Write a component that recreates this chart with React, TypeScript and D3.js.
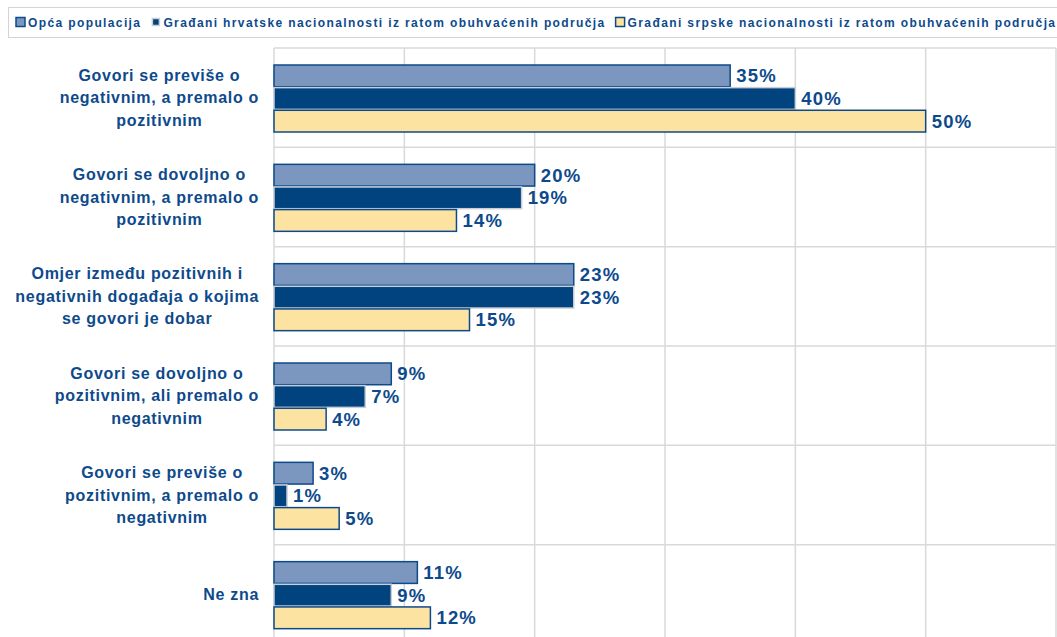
import React, { useEffect, useRef } from 'react';
import { select, scaleLinear, scaleBand, range } from 'd3';

const categories = [
  ['Govori se previše o', 'negativnim, a premalo o', 'pozitivnim'],
  ['Govori se dovoljno o', 'negativnim, a premalo o', 'pozitivnim'],
  ['Omjer između pozitivnih i', 'negativnih događaja o kojima', 'se govori je dobar'],
  ['Govori se dovoljno o', 'pozitivnim, ali premalo o', 'negativnim'],
  ['Govori se previše o', 'pozitivnim, a premalo o', 'negativnim'],
  ['Ne zna'],
];
const seriesNames = [
  'Opća populacija',
  'Građani hrvatske nacionalnosti iz ratom obuhvaćenih područja',
  'Građani srpske nacionalnosti iz ratom obuhvaćenih područja',
];
const opca = [35, 20, 23, 9, 3, 11];
const hrvati = [40, 19, 23, 7, 1, 9];
const srbi = [50, 14, 15, 4, 5, 12];
const gridTicks = [0, 10, 20, 30, 40, 50, 60];

const fills = ['#7b96bf', '#01437f', '#fde3a1'];
const strokes = ['#0d4a8c', '#c9ced6', '#0d4a8c'];
const textColor = '#0d4a8c';
const font = '"Liberation Sans", Arial, sans-serif';

const drawChart = (node) => {
  const width = 1057;
  const height = 637;
  const svg = select(node).attr('width', width).attr('height', height);
  svg.selectAll('*').remove();

  const values = [opca, hrvati, srbi];
  const x = scaleLinear().domain([0, 60]).range([274, 1056]);
  const y = scaleBand().domain(range(categories.length)).range([48, 644]);
  const ySub = scaleBand().domain(range(3)).range([17, 84]).paddingInner(0.04);

  // grid
  svg.append('g')
    .selectAll('line')
    .data(gridTicks)
    .enter()
    .append('line')
    .attr('x1', d => x(d)).attr('x2', d => x(d))
    .attr('y1', 48).attr('y2', 644)
    .attr('stroke', '#d9d9d9')
    .attr('stroke-width', 1.5);

  svg.append('g')
    .selectAll('line')
    .data(range(categories.length + 1))
    .enter()
    .append('line')
    .attr('x1', x(0)).attr('x2', x(60))
    .attr('y1', d => 48 + d * y.step()).attr('y2', d => 48 + d * y.step())
    .attr('stroke', '#d9d9d9')
    .attr('stroke-width', 1.5);

  // bars
  values.forEach((vals, s) => {
    const g = svg.append('g');
    g.selectAll('rect')
      .data(vals)
      .enter()
      .append('rect')
      .attr('x', x(0))
      .attr('y', (d, i) => y(i) + ySub(s))
      .attr('width', d => x(d) - x(0))
      .attr('height', ySub.bandwidth())
      .attr('fill', fills[s])
      .attr('stroke', strokes[s])
      .attr('stroke-width', 1.5);

    g.selectAll('text')
      .data(vals)
      .enter()
      .append('text')
      .attr('x', d => x(d) + 6)
      .attr('y', (d, i) => y(i) + ySub(s) + ySub.bandwidth() / 2 + 6.5)
      .attr('fill', textColor)
      .style('font', `bold 18.5px ${font}`)
      .style('letter-spacing', '1.2px')
      .text(d => d + '%');
  });

  // category labels: block right aligned, lines centered
  const labelRight = 259;
  categories.forEach((lines, i) => {
    const t = svg.append('text')
      .attr('fill', textColor)
      .attr('text-anchor', 'middle')
      .style('font', `bold 16px ${font}`)
      .style('letter-spacing', '0.7px');
    const cy = y(i) + y.bandwidth() / 2;
    const lh = 22.5;
    const spans = lines.map((line, k) => t.append('tspan')
      .attr('y', cy + (k - (lines.length - 1) / 2) * lh + 5.5)
      .text(line));
    const maxW = Math.max(...spans.map(sp => sp.node().getComputedTextLength()));
    spans.forEach(sp => sp.attr('x', labelRight - maxW / 2));
  });

  // legend
  svg.append('rect')
    .attr('x', 8.5).attr('y', 7.5)
    .attr('width', 1060).attr('height', 30)
    .attr('fill', '#fff')
    .attr('stroke', '#d4d4d4');

  let lx = 16;
  seriesNames.forEach((name, s) => {
    const small = s === 1;
    const sz = small ? 7 : 9;
    svg.append('rect')
      .attr('x', lx + (small ? 1 : 0)).attr('y', 17.5 + (small ? 1 : 0))
      .attr('width', sz).attr('height', sz)
      .attr('fill', fills[s])
      .attr('stroke', strokes[s])
      .attr('stroke-width', 1.5);
    const t = svg.append('text')
      .attr('x', lx + 12)
      .attr('y', 26.5)
      .attr('fill', textColor)
      .style('font', `bold 12px ${font}`)
      .style('letter-spacing', '1.38px')
      .text(name);
    lx = lx + 12 + t.node().getComputedTextLength() + 10;
  });
};

const App = () => {
  const ref = useRef(null);
  useEffect(() => {
    document.body.style.margin = '0';
    drawChart(ref.current);
  }, []);
  return <svg ref={ref} style={{ display: 'block', background: '#fff' }} />;
};

export default App;
